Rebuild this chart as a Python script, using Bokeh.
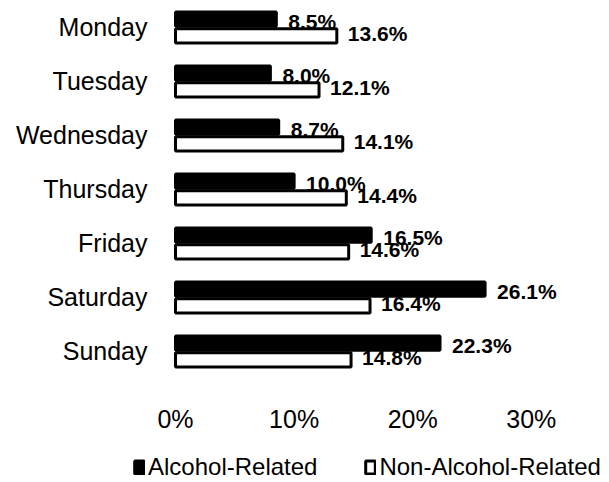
from bokeh.plotting import figure
from bokeh.models import ColumnDataSource, Range1d, FixedTicker, Legend, LegendItem
from bokeh.transform import dodge
from bokeh.core.properties import value
from bokeh.embed import file_html
from bokeh.resources import INLINE

days = ["Monday", "Tuesday", "Wednesday", "Thursday", "Friday", "Saturday", "Sunday"]
alcohol = [8.5, 8.0, 8.7, 10.0, 16.5, 26.1, 22.3]
non_alcohol = [13.6, 12.1, 14.1, 14.4, 14.6, 16.4, 14.8]
x_ticks = [0, 10, 20, 30]
x_tick_labels = ["0%", "10%", "20%", "30%"]
series_names = ["Alcohol-Related", "Non-Alcohol-Related"]

FONT = "Liberation Sans"

idx = list(range(len(days)))
src = ColumnDataSource(dict(
    idx=idx,
    day=days,
    alc=alcohol,
    non=non_alcohol,
    alc_lbl=[f"{v:.1f}%" for v in alcohol],
    non_lbl=[f"{v:.1f}%" for v in non_alcohol],
))

# frame covers the whole canvas; axes are pinned inside it
p = figure(width=609, height=482, output_backend="svg", toolbar_location=None,
           x_range=Range1d(-14.755, 36.59), y_range=Range1d(8.426, -0.5),
           min_border=0)
p.outline_line_color = None
p.xgrid.visible = False
p.ygrid.visible = False

off = 0.155
h = 0.265
r_non = p.hbar(y=dodge("idx", off), right="non", left=0, height=h, source=src,
               fill_color="white", line_color="black", line_width=3)
p.text(x="non", y=dodge("idx", off), text="non_lbl", source=src,
       x_offset=11, y_offset=-2, text_align="left", text_baseline="middle",
       text_font=value(FONT), text_font_style="bold", text_font_size="21px", text_color="black")
r_alc = p.hbar(y=dodge("idx", -off), right="alc", left=0, height=h, source=src,
               fill_color="black", line_color="black", line_width=3)
p.text(x="alc", y=dodge("idx", -off), text="alc_lbl", source=src,
       x_offset=12, y_offset=2, text_align="left", text_baseline="middle",
       text_font=value(FONT), text_font_style="bold", text_font_size="21px", text_color="black")

for ax in (p.xaxis[0], p.yaxis[0]):
    ax.axis_line_color = None
    ax.major_tick_line_color = None
    ax.minor_tick_line_color = None
    ax.major_tick_out = 0
    ax.major_tick_in = 0
    ax.minor_tick_out = 0
    ax.minor_tick_in = 0
    ax.major_label_text_font = FONT
    ax.major_label_text_font_size = "25px"
    ax.major_label_text_color = "black"

p.yaxis.ticker = FixedTicker(ticks=idx)
p.yaxis.major_label_overrides = {i: d for i, d in zip(idx, days)}
p.yaxis.major_label_standoff = 28
p.yaxis.fixed_location = 0

p.xaxis.ticker = FixedTicker(ticks=x_ticks)
p.xaxis.major_label_overrides = {t: l for t, l in zip(x_ticks, x_tick_labels)}
p.xaxis.major_label_standoff = 11
p.xaxis.fixed_location = 6.778

legend = Legend(items=[LegendItem(label=series_names[0], renderers=[r_alc]),
                       LegendItem(label=series_names[1], renderers=[r_non])],
                orientation="horizontal", location=(133, 1),
                glyph_width=12, glyph_height=16, label_standoff=3, spacing=47,
                padding=0, margin=0, border_line_color=None, background_fill_alpha=0,
                label_text_font=FONT, label_text_font_size="24px", label_text_color="black")
p.add_layout(legend, "center")

open("out.html", "w").write(file_html(p, INLINE))
